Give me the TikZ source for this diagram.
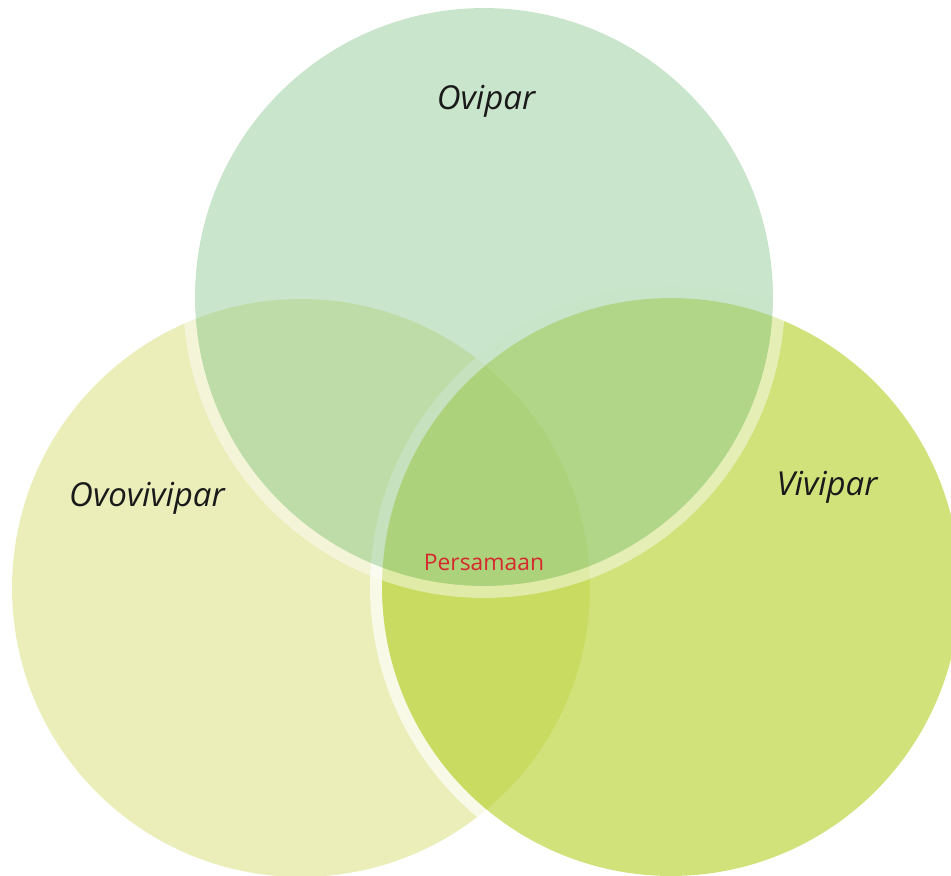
\documentclass[tikz,border=0pt]{standalone}
\usepackage{fontspec}
\setmainfont{Open Sans}
\usepackage{tikz}
\definecolor{oviGreen}{RGB}{147,203,151}
\definecolor{ovoYellow}{RGB}{235,238,185}
\definecolor{viviLime}{RGB}{184,210,50}
\definecolor{labelRed}{RGB}{212,42,46}
\definecolor{labelInk}{RGB}{26,26,26}

\begin{document}
\begin{tikzpicture}[
  x=0.02cm, y=-0.02cm,
  ring/.style={draw=white, line width=0.24cm, draw opacity=#1},
  setlabel/.style={font=\fontsize{18.8}{22}\selectfont\itshape, text=labelInk, anchor=base, inner sep=0pt},
  common/.style={font=\fontsize{13}{15}\selectfont, text=labelRed, anchor=base, inner sep=0pt}
]
\useasboundingbox (0,0) rectangle (951,876);
\clip (0,0) rectangle (951,876);
% set centres
\coordinate (cOvo) at (301,588);
\coordinate (cVivi) at (671,587);
\coordinate (cOvi) at (484,297);

% circles, bottom to top
\fill[ovoYellow] (cOvo) circle (5.78cm);
\draw[ring=0.65] (cVivi) circle (5.90cm);
\fill[viviLime, fill opacity=0.65] (cVivi) circle (5.78cm);
\draw[ring=0.45] (cOvi) circle (5.90cm);
\fill[oviGreen, fill opacity=0.5] (cOvi) circle (5.78cm);

% labels
\node[setlabel] (ovipar) at (486,109) {Ovipar};
\node[setlabel] (ovovivipar) at (147,506) {Ovovivipar};
\node[setlabel] (vivipar) at (827,495) {Vivipar};
\node[common] (persamaan) at (484,570) {Persamaan};
\end{tikzpicture}
\end{document}
